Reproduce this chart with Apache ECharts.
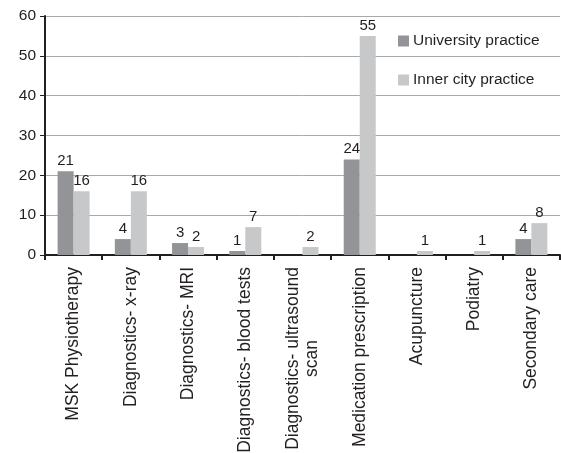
<!DOCTYPE html>
<html>
<head>
<meta charset="utf-8">
<script src="https://cdn.jsdelivr.net/npm/echarts@6/dist/echarts.min.js"></script>
<style>
	html, body { margin: 0; padding: 0; background: #fff; }
	#mainChart { width: 561px; height: 453px; }
</style>
</head>
<body>
<div id="mainChart"></div>
<script>
	var categories = ['MSK Physiotherapy', 'Diagnostics- x-ray', 'Diagnostics- MRI', 'Diagnostics- blood tests',
		'Diagnostics- ultrasound\nscan', 'Medication prescription', 'Acupuncture', 'Podiatry', 'Secondary care'];
	var universityPractice = [21, 4, 3, 1, 0, 24, 0, 0, 4];
	var innerCityPractice = [16, 16, 2, 7, 2, 55, 1, 1, 8];
	var seriesNames = ['University practice', 'Inner city practice'];
	var yTicks = [0, 10, 20, 30, 40, 50, 60];

	var font = 'Liberation Sans, Arial, Helvetica, sans-serif';
	var textColor = '#231f20';

	// hide labels for zero values
	var labelFmt = function (p) { return p.value === 0 ? '' : String(p.value); };

	var barLabel = {
		show: true,
		position: 'top',
		distance: 3,
		color: textColor,
		fontFamily: font,
		fontSize: 15,
		formatter: labelFmt
	};

	var options = {
		animation: false,
		textStyle: { fontFamily: font },
		grid: {
			left: 45,
			right: 1,
			top: 16,
			bottom: 198,
			outerBoundsMode: 'none'
		},
		legend: {
			orient: 'vertical',
			left: 393,
			top: 28,
			itemWidth: 11,
			itemHeight: 11,
			itemGap: 23,
			itemStyle: { borderWidth: 0 },
			icon: 'rect',
			textStyle: {
				color: textColor,
				fontFamily: font,
				fontSize: 15.5,
				padding: [0, 0, 0, -1]
			},
			data: seriesNames
		},
		xAxis: {
			type: 'category',
			data: categories,
			axisLine: {
				lineStyle: { color: '#231f20', width: 2 }
			},
			axisTick: {
				show: true,
				length: 5,
				lineStyle: { color: '#231f20', width: 2 }
			},
			axisLabel: {
				interval: 0,
				rotate: 90,
				margin: 12,
				color: textColor,
				fontFamily: font,
				fontSize: 17.5,
				formatter: function (v) {
					var parts = v.split('\n');
					return parts.map(function (s) { return '{c|' + s + '}'; }).join('\n');
				},
				rich: {
					c: { align: 'center', fontSize: 17.5, fontFamily: font, color: textColor, lineHeight: 19 }
				}
			}
		},
		yAxis: {
			type: 'value',
			min: yTicks[0],
			max: yTicks[yTicks.length - 1],
			interval: 10,
			axisLine: {
				show: true,
				lineStyle: { color: '#231f20', width: 2 }
			},
			axisTick: {
				show: true,
				length: 5,
				lineStyle: { color: '#231f20', width: 1 }
			},
			axisLabel: {
				margin: 9,
				color: textColor,
				fontFamily: font,
				fontSize: 15.5
			},
			splitLine: {
				lineStyle: { color: '#a7a9ac', width: 1, type: 'solid' }
			}
		},
		series: [{
			name: seriesNames[0],
			type: 'bar',
			data: universityPractice,
			barWidth: 16,
			barGap: '0%',
			itemStyle: { color: '#929497' },
			label: barLabel
		}, {
			name: seriesNames[1],
			type: 'bar',
			data: innerCityPractice,
			barWidth: 16,
			barGap: '0%',
			itemStyle: { color: '#c7c8ca' },
			label: barLabel
		}]
	};

	var mainChart = echarts.init(document.getElementById('mainChart'));
	mainChart.setOption(options);
</script>
</body>
</html>
